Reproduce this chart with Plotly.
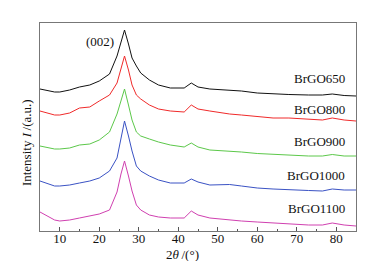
import plotly.graph_objects as go

two_theta = [5, 8.7, 10, 12.5, 15, 17.6, 20, 22.6, 24.5, 25.5, 26.4, 27.4, 28.3, 29.4, 30.5,
             32.7, 35, 38, 41.5, 43.3, 45, 48, 53, 56, 60, 64, 68, 73, 76.5, 79, 82, 85]

# Offset intensities (a.u.), stacked
brgo650 = [142, 139, 139, 141, 144, 146, 150, 157, 175, 188, 201, 187, 173, 165, 158,
           151, 146, 143, 143, 148, 144, 142, 141, 140, 138, 137, 136.5, 136, 136, 137, 135.5, 135]
brgo800 = [120, 116, 116, 118, 123, 124, 130, 136, 148, 161, 175, 161, 146, 136, 132,
           126, 122, 120, 119, 126, 122, 120, 117, 116, 114.5, 113, 113, 112, 111, 113, 111, 110]
brgo900 = [85, 82, 82, 83, 86, 87, 91, 99, 117, 129, 142, 126, 111, 99, 95,
           92, 89, 86, 84, 88, 84, 81, 80, 79, 77.5, 76.5, 76, 75, 75, 76.5, 75, 75]
brgo1000 = [50, 45, 45, 46, 48, 50, 53, 60, 73, 93, 110, 95, 80, 65, 60,
            55, 51, 48, 48, 52, 49, 46, 46.5, 45, 43, 42, 41, 40.5, 40, 42, 41, 41]
brgo1100 = [19, 11, 10, 11, 13, 15, 17, 21, 39, 57, 70, 55, 40, 26, 21,
            16, 14, 13, 13, 20, 16, 13, 11, 10, 9, 8, 7, 6, 6, 8, 6, 5]

series = [
    ("BrGO650", brgo650, "#111111", 153),
    ("BrGO800", brgo800, "#f02a2a", 122),
    ("BrGO900", brgo900, "#5cc84a", 90),
    ("BrGO1000", brgo1000, "#3a52c4", 56),
    ("BrGO1100", brgo1100, "#d040b0", 23),
]

x_ticks = [10, 20, 30, 40, 50, 60, 70, 80]

fig = go.Figure()
font = "Liberation Serif, Times New Roman, serif"
for name, ys, color, ylab in series:
    fig.add_trace(go.Scatter(x=two_theta, y=ys, mode="lines", name=name,
                             line=dict(color=color, width=1),
                             showlegend=False))
    fig.add_annotation(x=82.6, y=ylab, text=name, showarrow=False, xanchor="right",
                       yanchor="middle", font=dict(family=font, size=13, color="#111"))

fig.add_annotation(x=20.1, y=190, text="(002)", showarrow=False, xanchor="center",
                   yanchor="middle", font=dict(family=font, size=13, color="#111"))

# axis titles
fig.add_annotation(xref="paper", yref="paper", x=-0.044, y=0.423,
                   text="Intensity <i>I</i>\u2009/(a.u.)",
                   textangle=-90, showarrow=False, xanchor="center", yanchor="middle",
                   font=dict(family=font, size=13, color="#111"))
fig.add_annotation(xref="paper", yref="paper", x=0.452, y=-0.115,
                   text="2<i>θ</i>\u2009/(°)",
                   showarrow=False, xanchor="center", yanchor="middle",
                   font=dict(family=font, size=13, color="#111"))

fig.update_layout(
    width=365, height=261,
    margin=dict(l=32, r=17, t=15, b=38),
    paper_bgcolor="white", plot_bgcolor="white",
    font=dict(family=font, size=13, color="#111"),
    xaxis=dict(range=[5, 85], tickvals=x_ticks, ticks="inside", ticklen=4, tickwidth=1,
               tickcolor="#555", showline=True, linecolor="#777", linewidth=1, mirror=True,
               showgrid=False, zeroline=False, ticklabelstandoff=-5,
               minor=dict(dtick=5, ticks="inside", ticklen=2, tickcolor="#555"),
               tickfont=dict(size=13)),
    yaxis=dict(range=[0, 208], showticklabels=False, ticks="", showline=True,
               linecolor="#777", linewidth=1, mirror=True, showgrid=False, zeroline=False),
)

fig.write_html("out.html")
